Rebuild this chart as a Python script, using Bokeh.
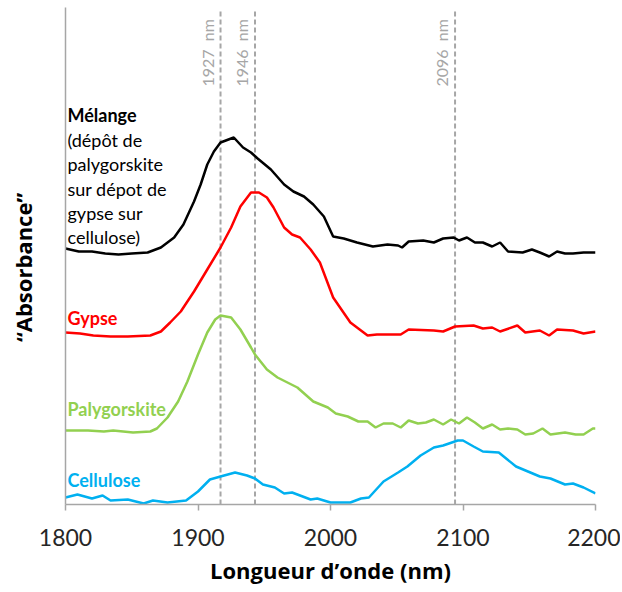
import math
from bokeh.plotting import figure
from bokeh.models import Range1d, FixedTicker, ColumnDataSource
from bokeh.core.properties import value
from bokeh.embed import file_html
from bokeh.resources import INLINE

# ---- data (wavelength nm, relative "absorbance") ----
melange_x = [1800, 1810, 1820, 1830, 1840, 1850, 1862, 1872, 1882, 1889, 1897, 1902, 1907, 1912, 1917,
             1927, 1934, 1940, 1945, 1955, 1965, 1972, 1980, 1987, 1995, 2002, 2010, 2020, 2032, 2043,
             2051, 2054, 2059, 2070, 2078, 2085, 2093, 2097, 2103, 2109, 2115, 2122, 2128, 2134, 2145,
             2152, 2158, 2165, 2171, 2177, 2183, 2191, 2200]
melange_y = [2.56, 2.53, 2.53, 2.51, 2.50, 2.51, 2.52, 2.57, 2.67, 2.80, 3.03, 3.20, 3.40, 3.53, 3.62,
             3.67, 3.57, 3.52, 3.46, 3.35, 3.20, 3.13, 3.08, 3.00, 2.88, 2.68, 2.66, 2.62, 2.58, 2.60,
             2.59, 2.57, 2.63, 2.64, 2.62, 2.66, 2.67, 2.64, 2.67, 2.62, 2.62, 2.58, 2.62, 2.53, 2.52,
             2.55, 2.52, 2.48, 2.53, 2.51, 2.51, 2.52, 2.52]

gypse_x = [1800, 1811, 1821, 1834, 1847, 1864, 1872, 1879, 1887, 1897, 1907, 1917, 1925, 1932, 1940,
           1946, 1952, 1957, 1965, 1971, 1977, 1985, 1992, 2002, 2015, 2028, 2035, 2053, 2059, 2078,
           2085, 2094, 2108, 2115, 2122, 2128, 2141, 2147, 2158, 2165, 2171, 2183, 2191, 2200]
gypse_y = [1.72, 1.71, 1.69, 1.68, 1.68, 1.69, 1.73, 1.82, 1.93, 2.13, 2.35, 2.57, 2.77, 2.98, 3.12,
           3.12, 3.07, 2.97, 2.77, 2.70, 2.67, 2.55, 2.42, 2.07, 1.82, 1.69, 1.70, 1.70, 1.75, 1.74,
           1.73, 1.78, 1.79, 1.76, 1.77, 1.73, 1.79, 1.72, 1.74, 1.69, 1.75, 1.74, 1.71, 1.73]

paly_x = [1800, 1817, 1829, 1836, 1851, 1864, 1869, 1877, 1885, 1892, 1900, 1907, 1913, 1917, 1925,
          1932, 1940, 1943, 1952, 1960, 1975, 1987, 1998, 2004, 2013, 2021, 2028, 2034, 2040, 2047,
          2053, 2059, 2066, 2072, 2078, 2085, 2091, 2097, 2103, 2109, 2115, 2122, 2128, 2134, 2141,
          2147, 2153, 2160, 2166, 2177, 2185, 2191, 2198, 2200]
paly_y = [0.74, 0.74, 0.73, 0.74, 0.72, 0.73, 0.76, 0.87, 1.03, 1.23, 1.50, 1.72, 1.85, 1.89, 1.87,
          1.75, 1.57, 1.50, 1.35, 1.27, 1.17, 1.03, 0.97, 0.91, 0.88, 0.83, 0.83, 0.77, 0.81, 0.81,
          0.77, 0.84, 0.81, 0.82, 0.85, 0.80, 0.85, 0.81, 0.87, 0.82, 0.76, 0.80, 0.75, 0.76, 0.75,
          0.70, 0.71, 0.76, 0.70, 0.72, 0.70, 0.70, 0.76, 0.76]

cell_x = [1800, 1809, 1820, 1828, 1834, 1847, 1859, 1866, 1877, 1891, 1900, 1909, 1917, 1928, 1937,
          1943, 1949, 1958, 1965, 1971, 1979, 1985, 1990, 2000, 2015, 2023, 2029, 2040, 2051, 2058,
          2068, 2078, 2085, 2096, 2100, 2108, 2115, 2127, 2140, 2149, 2158, 2166, 2177, 2183, 2191, 2200]
cell_y = [0.07, 0.10, 0.06, 0.09, 0.04, 0.05, 0.01, 0.04, 0.02, 0.04, 0.13, 0.25, 0.28, 0.32, 0.29,
          0.26, 0.20, 0.17, 0.11, 0.12, 0.08, 0.05, 0.06, 0.02, 0.02, 0.06, 0.07, 0.23, 0.32, 0.38,
          0.49, 0.57, 0.59, 0.64, 0.64, 0.58, 0.53, 0.52, 0.38, 0.33, 0.28, 0.26, 0.20, 0.21, 0.17, 0.11]

marker_pos = [1917, 1943, 2094]
marker_labels = ["1927\u00a0\u00a0nm", "1946\u00a0\u00a0nm", "2096\u00a0\u00a0nm"]
x_ticks = [1800, 1900, 2000, 2100, 2200]
x_title = "Longueur d’onde (nm)"
y_title = "“Absorbance”"

BLACK = "#000000"
RED = "#FF0000"
GREEN = "#92D050"
BLUE = "#00B0F0"
GRAY = "#A6A6A6"
FONT = "Lato"
TFONT = "Open Sans"

p = figure(width=620, height=592, output_backend="svg", toolbar_location=None,
           x_range=Range1d(1800, 2200), y_range=Range1d(0, 4.97),
           min_border_left=65, min_border_right=25, min_border_top=7, min_border_bottom=88)
p.outline_line_color = None
p.xgrid.visible = False
p.ygrid.visible = False
p.background_fill_color = "white"
p.border_fill_color = "white"

# axes
p.xaxis.ticker = FixedTicker(ticks=x_ticks)
p.xaxis.axis_line_color = GRAY
p.xaxis.axis_line_width = 1.5
p.xaxis.major_tick_line_color = GRAY
p.xaxis.major_tick_line_width = 1.5
p.xaxis.major_tick_in = 0
p.xaxis.major_tick_out = 6
p.xaxis.minor_tick_line_color = None
p.xaxis.major_label_text_font = FONT
p.xaxis.major_label_text_font_size = "23px"
p.xaxis.major_label_text_color = "#262626"
p.xaxis.major_label_standoff = 18
p.xaxis.axis_label = x_title
p.xaxis.axis_label_text_font = TFONT
p.xaxis.axis_label_text_font_style = "bold"
p.xaxis.axis_label_text_font_size = "22px"
p.xaxis.axis_label_text_color = "#000000"
p.xaxis.axis_label_standoff = 6

p.yaxis.ticker = FixedTicker(ticks=[])
p.yaxis.axis_line_color = GRAY
p.yaxis.axis_line_width = 1.5
p.yaxis.major_tick_line_color = None
p.yaxis.minor_tick_line_color = None
p.yaxis.major_label_text_font_size = "0px"
p.yaxis.axis_label = y_title + "\u00a0" * 4
p.yaxis.axis_label_text_font = TFONT
p.yaxis.axis_label_text_font_style = "bold"
p.yaxis.axis_label_text_font_size = "22px"
p.yaxis.axis_label_text_color = "#000000"
p.yaxis.axis_label_standoff = 28

# dashed marker lines
ms = ColumnDataSource(dict(x=marker_pos, y0=[0] * len(marker_pos), y1=[4.95] * len(marker_pos),
                           lab=marker_labels))
p.segment(x0="x", y0="y0", x1="x", y1="y1", source=ms, line_color=GRAY, line_width=2,
          line_dash="5 3")
p.text(x="x", y=4.18, text="lab", source=ms, angle=math.pi / 2, text_align="left",
       text_baseline="bottom", x_offset=-4, text_color=GRAY, text_font=value(FONT),
       text_font_size="16px")

# spectra
p.line(melange_x, melange_y, line_color=BLACK, line_width=2.5)
p.line(gypse_x, gypse_y, line_color=RED, line_width=2.5)
p.line(paly_x, paly_y, line_color=GREEN, line_width=2.5)
p.line(cell_x, cell_y, line_color=BLUE, line_width=2.5)

# curve labels
p.text(x=[1801.5], y=[3.90], text=["Mélange"], text_font=value(FONT), text_font_style="bold",
       text_font_size="18px", text_color=BLACK, text_baseline="middle")
desc = ["(dépôt de", "palygorskite", "sur dépot de", "gypse sur", "cellulose)"]
desc_y = [3.65, 3.41, 3.16, 2.92, 2.68]
p.text(x=[1801.5] * len(desc), y=desc_y, text=desc, text_font=value(FONT),
       text_font_size="18px", text_color=BLACK, text_baseline="middle")
p.text(x=[1801.5], y=[1.87], text=["Gypse"], text_font=value(FONT), text_font_style="bold",
       text_font_size="18px", text_color=RED, text_baseline="middle")
p.text(x=[1801.5], y=[0.96], text=["Palygorskite"], text_font=value(FONT), text_font_style="bold",
       text_font_size="18px", text_color=GREEN, text_baseline="middle")
p.text(x=[1801.5], y=[0.25], text=["Cellulose"], text_font=value(FONT), text_font_style="bold",
       text_font_size="18px", text_color=BLUE, text_baseline="middle")

open("out.html", "w").write(file_html(p, INLINE))
